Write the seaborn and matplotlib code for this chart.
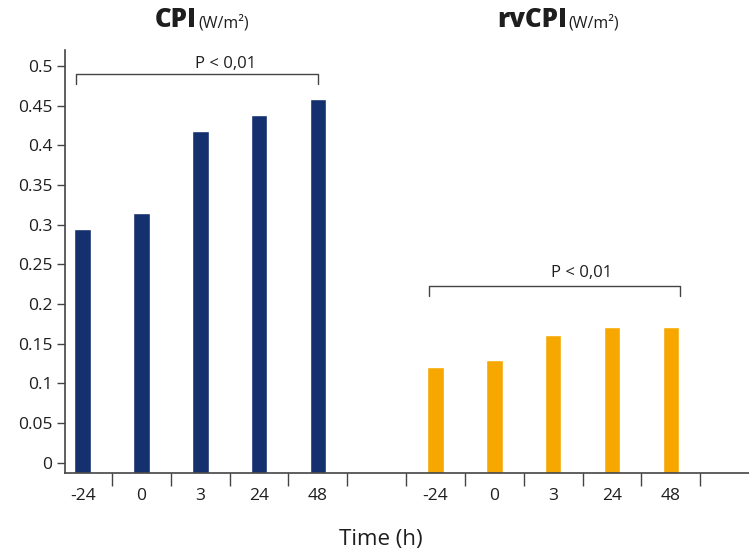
"Grouped bar chart: CPI and rvCPI over time"
import pandas as pd
import numpy as np
import matplotlib as mpl
from matplotlib import pyplot as plt
import seaborn as sns

# data
times = ["-24", "0", "3", "24", "48"]
cpi = [0.295, 0.315, 0.418, 0.438, 0.458]
rvcpi = [0.120, 0.130, 0.161, 0.171, 0.171]
yticks = [0, 0.05, 0.1, 0.15, 0.2, 0.25, 0.3, 0.35, 0.4, 0.45, 0.5]

navy = "#14306f"
orange = "#f6a800"
ink = "#1e1e1e"
line = "#444444"


def build_frame():
    rows = []
    for t, v in zip(times, cpi):
        rows.append({"slot": "cpi" + t, "value": v, "group": "CPI"})
    for t, v in zip(times, rvcpi):
        rows.append({"slot": "rv" + t, "value": v, "group": "rvCPI"})
    return pd.DataFrame(rows)


df = build_frame()
order = ["cpi" + t for t in times] + ["gap1"] + ["rv" + t for t in times] + ["gap2"]
labels = times + [""] + times + [""]

sns.set_theme(style="white")
plt.rcParams["font.family"] = ["Open Sans", "DejaVu Sans"]

fig = plt.figure(figsize=(7.49, 5.51), dpi=100)
ax = fig.add_axes([65 / 749, 1 - 473 / 551, 1 - 65 / 749, (473 - 50) / 551])

sns.barplot(data=df, x="slot", y="value", hue="group", order=order,
            palette={"CPI": navy, "rvCPI": orange}, dodge=False, width=0.28,
            saturation=1, legend=False, ax=ax)

ymin = -0.013
ax.set_xlim(-0.3, 11.33)
ax.set_ylim(ymin, 0.52)
# bars run down to the axis line, as in the original
for p in ax.patches:
    top = p.get_y() + p.get_height()
    p.set_y(ymin)
    p.set_height(top - ymin)

ax.set_yticks(yticks)
ax.set_yticklabels([("%g" % v) for v in yticks])
ax.set_xticks(range(len(order)))
ax.set_xticklabels(labels)
ax.set_xticks(np.arange(0.5, 11, 1.0), minor=True)
ax.tick_params(axis="x", which="major", bottom=True, length=0, pad=11,
               labelsize=12.5, colors=ink)
ax.tick_params(axis="x", which="minor", bottom=True, length=9, width=1,
               color=line, direction="out")
ax.tick_params(axis="y", left=True, length=6, width=1, color=line, direction="out",
               labelsize=12.5, colors=ink, pad=3)
ax.set_xlabel("")
ax.set_ylabel("")

sns.despine(ax=ax)
for s in ["left", "bottom"]:
    ax.spines[s].set_color(line)
    ax.spines[s].set_linewidth(1.2)

# significance brackets
def bracket(x0, x1, y, h, text, tx, gap):
    ax.plot([x0, x0, x1, x1], [y - h, y, y, y - h], color=line, lw=1, clip_on=False)
    ax.text(tx, y + gap, text, ha="center", va="baseline", fontsize=12, color=ink)

bracket(-0.11, 4.0, 0.4895, 0.012, "P < 0,01", 2.43, 0.008)
bracket(5.89, 10.16, 0.2225, 0.012, "P < 0,01", 8.49, 0.011)

# titles and axis label
tr = fig.transFigure
ty = 1 - 27 / 551
fig.text(197 / 749, ty, "CPI", ha="right", va="baseline", fontsize=18.5,
         fontweight="black", color=ink, transform=tr)
fig.text(198 / 749, ty, "(W/m²)", ha="left", va="baseline", fontsize=11.5,
         color=ink, transform=tr)
fig.text(567 / 749, ty, "rvCPI", ha="right", va="baseline", fontsize=18.5,
         fontweight="black", color=ink, transform=tr)
fig.text(568 / 749, ty, "(W/m²)", ha="left", va="baseline", fontsize=11.5,
         color=ink, transform=tr)
fig.text(381 / 749, 1 - 540 / 551, "Time (h)", ha="center", va="center",
         fontsize=16, color=ink, transform=tr)

plt.savefig("out.png", dpi=100)
plt.clf()
